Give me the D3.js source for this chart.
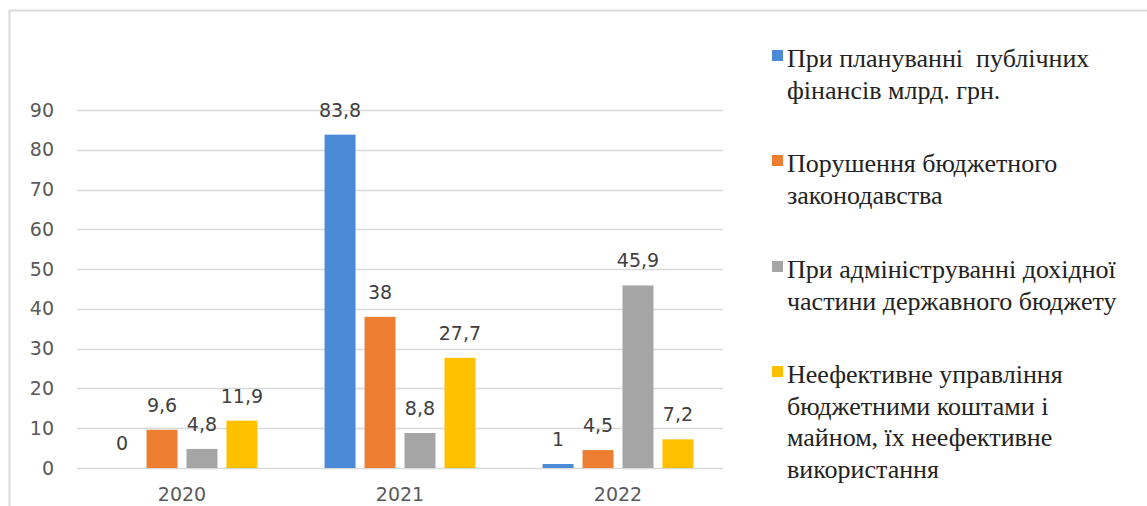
<!DOCTYPE html>
<html>
<head>
<meta charset="utf-8">
<script src="https://cdn.jsdelivr.net/npm/d3@7"></script>
<style>
  body { margin: 0; background: #fff; }
  svg { display: block; }
  .legend-text { font-family: 'Liberation Serif', 'DejaVu Serif', serif; font-size: 26px; }
</style>
</head>
<body>
<script>
var years = ['2020', '2021', '2022'];
var seriesNames = [
    'При плануванні публічних фінансів млрд. грн.',
    'Порушення бюджетного законодавства',
    'При адмініструванні дохідної частини державного бюджету',
    'Неефективне управління бюджетними коштами і майном, їх неефективне використання'
];
var legendLines = [
    ['При плануванні\u00a0 публічних', 'фінансів млрд. грн.'],
    ['Порушення бюджетного', 'законодавства'],
    ['При адмініструванні дохідної', 'частини державного бюджету'],
    ['Неефективне управління', 'бюджетними коштами і', 'майном, їх неефективне', 'використання']
];
var planning = [0, 83.8, 1];
var violations = [9.6, 38, 4.5];
var revenue = [4.8, 8.8, 45.9];
var inefficient = [11.9, 27.7, 7.2];
var labels = [
    ['0', '83,8', '1'],
    ['9,6', '38', '4,5'],
    ['4,8', '8,8', '45,9'],
    ['11,9', '27,7', '7,2']
];
var yTicks = [0, 10, 20, 30, 40, 50, 60, 70, 80, 90];
var colors = ['#4a8ad6', '#ed7d31', '#a5a5a5', '#ffc000'];

var series = [planning, violations, revenue, inefficient];

var width = 1147, height = 506;
var numFont = '"DejaVu Sans", "Open Sans", sans-serif';

var svg = d3.select('body').append('svg').attr('width', width).attr('height', height);

// light frame of the chart area (runs off the right and bottom edges)
svg.append('path')
    .attr('d', 'M9.5,' + height + 'V10.5H' + width)
    .attr('fill', 'none')
    .attr('stroke', '#d9d9d9')
    .attr('stroke-width', 2);

var y = d3.scaleLinear().domain([0, 90]).range([468, 110]);
var x0 = d3.scaleBand().domain(years).range([73, 727]).padding(0);
var x1 = d3.scaleBand().domain(d3.range(series.length)).range([0, x0.bandwidth()])
    .paddingInner(0.225).paddingOuter(0.84);

// gridlines
svg.append('g').selectAll('line').data(yTicks).enter().append('line')
    .attr('x1', 77).attr('x2', 723)
    .attr('y1', function(d) { return Math.round(y(d)) + 0.5; })
    .attr('y2', function(d) { return Math.round(y(d)) + 0.5; })
    .attr('stroke', '#d9d9d9')
    .attr('stroke-width', 1.5);

// y axis labels
var yAxis = d3.axisLeft(y).tickValues(yTicks).tickSize(0).tickPadding(0);
var yg = svg.append('g').attr('transform', 'translate(54,0)').call(yAxis);
yg.select('.domain').remove();
yg.selectAll('text')
    .attr('fill', '#595959')
    .style('font-family', numFont)
    .style('font-size', '19px');

// x axis labels
var xAxis = d3.axisBottom(x0).tickSize(0).tickPadding(0);
var xg = svg.append('g').attr('transform', 'translate(0,501)').call(xAxis);
xg.select('.domain').remove();
xg.selectAll('text')
    .attr('fill', '#595959')
    .attr('y', 0)
    .attr('dy', 0)
    .style('font-family', numFont)
    .style('font-size', '19px');

// bars
var groups = svg.append('g').selectAll('g').data(years).enter().append('g')
    .attr('transform', function(d) { return 'translate(' + x0(d) + ',0)'; });

function cells(d, i) {
    return series.map(function(s, k) { return { k: k, v: s[i], label: labels[k][i] }; });
}

groups.selectAll('rect')
    .data(cells)
    .enter().append('rect')
    .attr('x', function(d) { return x1(d.k); })
    .attr('width', x1.bandwidth())
    .attr('y', function(d) { return y(d.v); })
    .attr('height', function(d) { return y(0) - y(d.v); })
    .attr('fill', function(d) { return colors[d.k]; });

groups.selectAll('text')
    .data(cells)
    .enter().append('text')
    .attr('x', function(d) { return x1(d.k) + x1.bandwidth() / 2; })
    .attr('y', function(d) { return y(d.v) - 18; })
    .attr('text-anchor', 'middle')
    .attr('fill', '#404040')
    .style('font-family', numFont)
    .style('font-size', '19px')
    .text(function(d) { return d.label; });

// legend
var legendTop = [67, 172, 278, 383];
var legend = svg.append('g').selectAll('g').data(seriesNames).enter().append('g')
    .attr('transform', function(d, i) { return 'translate(772,' + legendTop[i] + ')'; });

legend.append('rect')
    .attr('x', 0).attr('y', -17)
    .attr('width', 11).attr('height', 11)
    .attr('fill', function(d, i) { return colors[i]; });

legend.append('text')
    .attr('class', 'legend-text')
    .attr('x', 15)
    .attr('fill', '#222')
    .selectAll('tspan')
    .data(function(d, i) { return legendLines[i]; })
    .enter().append('tspan')
    .attr('x', 15)
    .attr('y', function(d, j) { return j * 31.5; })
    .text(function(d) { return d; });
</script>
</body>
</html>
